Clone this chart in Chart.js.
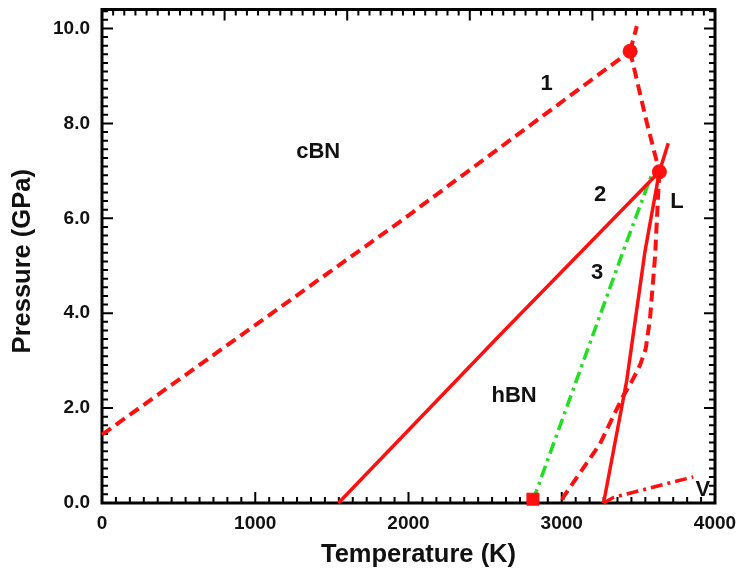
<!DOCTYPE html>
<html><head><meta charset="utf-8">
<script src="https://cdn.jsdelivr.net/npm/chart.js@4/dist/chart.umd.min.js"></script>
<style>html,body{margin:0;padding:0;background:#fff;}#wrap{width:738px;height:573px;}</style>
</head><body><div id="wrap"><canvas id="c" width="738" height="573"></canvas></div>
<script>
// Temperature (K) / Pressure (GPa) data
const curve1T = [0, 1945, 3446];
const curve1P = [1.44, 5.93, 9.52];
const upperT = [3446, 3490];
const upperP = [9.52, 10.05];
const dotLinkT = [3446, 3554, 3637];
const dotLinkP = [9.52, 8.03, 6.98];
const metaT = [3637, 3629, 3609, 3576, 3548, 3510, 3460, 3400, 3320, 3250, 3120, 3009, 3000];
const metaP = [6.98, 6.50, 5.20, 3.89, 3.25, 2.90, 2.58, 2.25, 1.72, 1.25, 0.64, 0.12, 0.0];
const meltT = [3273, 3424, 3543, 3637, 3695];
const meltP = [0.0, 2.58, 5.30, 6.98, 7.58];
const curve2T = [1543, 2600, 3637];
const curve2P = [0.0, 3.55, 6.98];
const curve3T = [2812, 3400, 3587];
const curve3P = [0.05, 5.30, 6.92];
const vapT = [3273, 3340, 3858];
const vapP = [0.0, 0.12, 0.55];
const triplePointsT = [3446, 3637];
const triplePointsP = [9.52, 6.98];
const squareT = [2812];
const squareP = [0.08];
const xTicks = [0, 1000, 2000, 3000, 4000];
const yTicks = [0, 2, 4, 6, 8, 10];
const regionLabels = ['1', 'cBN', '2', 'L', '3', 'hBN', 'V'];
const labelT = [2902, 1411, 3250, 3752, 3230, 2689, 3921];
const labelP = [8.84, 7.40, 6.50, 6.35, 4.84, 2.26, 0.27];

const RED = '#ff1010', GREEN = '#22dd22';
const FONT = '"Liberation Sans", Arial, sans-serif';
const pts = (T, P) => T.map((t, i) => ({x: t, y: P[i]}));
function line(T, P, color, dash, width) {
  return {data: pts(T, P), showLine: true, borderColor: color, borderWidth: width || 3.5,
    borderDash: dash, pointRadius: 0, fill: false, tension: 0, clip: false, borderCapStyle: 'butt'};
}

const framePlugin = {
  id: 'frame',
  beforeDatasetsDraw(chart) {
    const ctx = chart.ctx, a = chart.chartArea;
    const xs = chart.scales.x, ys = chart.scales.y;
    ctx.save();
    ctx.strokeStyle = '#000';
    ctx.lineWidth = 3;
    ctx.strokeRect(a.left, a.top, a.right - a.left, a.bottom - a.top);
    ctx.lineWidth = 2;
    ctx.beginPath();
    for (let i = 0; i <= 44; i++) {
      const px = xs.getPixelForValue(i * 1000 / 11);
      const L = (i % 11 === 0) ? 11 : 6;
      ctx.moveTo(px, a.bottom); ctx.lineTo(px, a.bottom - L);
    }
    for (let i = 0; i * 800 / 11 <= 4000.01; i++) {
      const px = xs.getPixelForValue(i * 800 / 11);
      const L = (i % 11 === 0) ? 11 : 6;
      ctx.moveTo(px, a.top); ctx.lineTo(px, a.top + L);
    }
    for (let i = 0; i * 2 / 11 <= 10.4; i++) {
      const py = ys.getPixelForValue(i * 2 / 11);
      const L = (i % 11 === 0) ? 11 : 6;
      ctx.moveTo(a.left, py); ctx.lineTo(a.left + L, py);
      ctx.moveTo(a.right, py); ctx.lineTo(a.right - L, py);
    }
    ctx.stroke();
    ctx.restore();
  },
  afterDraw(chart) {
    const ctx = chart.ctx, a = chart.chartArea;
    const xs = chart.scales.x, ys = chart.scales.y;
    ctx.save();
    ctx.fillStyle = '#111';
    ctx.textAlign = 'center'; ctx.textBaseline = 'middle';
    ctx.font = 'bold 22px ' + FONT;
    regionLabels.forEach((t, i) => {
      ctx.fillText(t, xs.getPixelForValue(labelT[i]), ys.getPixelForValue(labelP[i]));
    });
    ctx.font = 'bold 25.5px ' + FONT;
    ctx.fillText('Temperature (K)', (a.left + a.right) / 2 + 10, 555);
    ctx.translate(23, (a.top + a.bottom) / 2 + 5);
    ctx.rotate(-Math.PI / 2);
    ctx.fillText('Pressure (GPa)', 0, 0);
    ctx.restore();
  }
};

new Chart(document.getElementById('c'), {
  type: 'scatter',
  data: {
    datasets: [
      line(curve1T, curve1P, RED, [11, 6], 4),
      line(upperT, upperP, RED, [11, 6], 4),
      line(dotLinkT, dotLinkP, RED, [11, 6], 4),
      line(metaT, metaP, RED, [11, 6], 4),
      line(meltT, meltP, RED, [], 3.5),
      line(curve2T, curve2P, RED, [], 3.5),
      line(curve3T, curve3P, GREEN, [12, 5, 3, 5], 3.5),
      line(vapT, vapP, RED, [12, 5, 3, 5], 3.5),
      {data: pts(triplePointsT, triplePointsP), pointRadius: 7.5, pointBackgroundColor: RED,
        pointBorderWidth: 0, showLine: false, clip: false, order: -1},
      {data: pts(squareT, squareP), pointStyle: 'rect', pointRadius: 8.5, pointBackgroundColor: RED,
        pointBorderColor: RED, pointBorderWidth: 1, showLine: false, clip: false, order: -1}
    ]
  },
  options: {
    responsive: false, animation: false, devicePixelRatio: 1,
    layout: {padding: {top: 7, right: 23, left: 0, bottom: 0}},
    plugins: {legend: {display: false}, tooltip: {enabled: false}},
    scales: {
      x: {
        type: 'linear', min: 0, max: 4000,
        afterFit(s) { s.height = 70; s.paddingLeft = 0; s.paddingRight = 0; },
        afterBuildTicks(s) { s.ticks = xTicks.map(v => ({value: v})); },
        grid: {display: false, drawTicks: false},
        border: {display: false},
        ticks: {padding: 9, color: '#111', maxRotation: 0, callback: v => String(v),
          font: {family: FONT, size: 19, weight: 'bold'}}
      },
      y: {
        type: 'linear', min: 0, max: 10.4,
        afterFit(s) { s.width = 102; s.paddingTop = 0; s.paddingBottom = 0; },
        afterBuildTicks(s) { s.ticks = yTicks.map(v => ({value: v})); },
        grid: {display: false, drawTicks: false},
        border: {display: false},
        ticks: {padding: 12, color: '#111', callback: v => v.toFixed(1),
          font: {family: FONT, size: 19, weight: 'bold'}}
      }
    }
  },
  plugins: [framePlugin]
});
</script></body></html>
